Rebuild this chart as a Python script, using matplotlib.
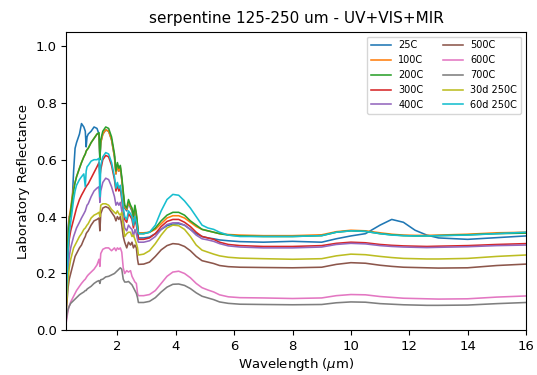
import numpy as np
import matplotlib
matplotlib.use("Agg")
import matplotlib.pyplot as plt

# wavelength grids (um): VNIR part and MIR part
wl_vnir = [0.25, 0.28, 0.31, 0.35, 0.40, 0.45, 0.50, 0.55, 0.60, 0.70, 0.77, 0.85, 0.90, 0.93,
           0.96, 1.0, 1.1, 1.2, 1.3, 1.37, 1.40, 1.43, 1.5, 1.6, 1.7, 1.8, 1.9, 1.95, 2.0, 2.05,
           2.1, 2.15, 2.2, 2.25, 2.32, 2.38, 2.45, 2.5, 2.55, 2.6, 2.65, 2.69]
wl_mir = [2.72, 2.9, 3.1, 3.3, 3.5, 3.7, 3.9, 4.1, 4.3, 4.5, 4.7, 4.9, 5.1, 5.3, 5.5, 5.8,
          6.2, 7.0, 8.0, 9.0, 9.5, 10.0, 10.5, 11.0, 11.4, 11.8, 12.2, 12.6, 13.0, 14.0, 15.0, 16.0]

labels = ["25C", "100C", "200C", "300C", "400C", "500C", "600C", "700C", "30d 250C", "60d 250C"]

# reflectance, VNIR part
r25_vnir = [0.10, 0.25, 0.36, 0.40, 0.40, 0.45, 0.56, 0.64, 0.66, 0.69, 0.727, 0.715, 0.70, 0.645,
            0.68, 0.69, 0.70, 0.715, 0.71, 0.69, 0.60, 0.66, 0.69, 0.705, 0.70, 0.67, 0.61, 0.55,
            0.58, 0.56, 0.57, 0.53, 0.48, 0.43, 0.42, 0.45, 0.43, 0.42, 0.39, 0.43, 0.40, 0.36]
r100_vnir = [0.12, 0.22, 0.33, 0.40, 0.43, 0.47, 0.50, 0.52, 0.54, 0.57, 0.59, 0.61, 0.62, 0.63,
             0.635, 0.64, 0.66, 0.675, 0.69, 0.69, 0.61, 0.66, 0.69, 0.705, 0.70, 0.67, 0.61, 0.55,
             0.58, 0.56, 0.575, 0.53, 0.48, 0.435, 0.425, 0.45, 0.435, 0.425, 0.395, 0.435, 0.405, 0.37]
r200_vnir = [0.14, 0.23, 0.32, 0.38, 0.42, 0.46, 0.49, 0.52, 0.54, 0.57, 0.59, 0.61, 0.62, 0.63,
             0.635, 0.64, 0.66, 0.675, 0.69, 0.695, 0.60, 0.67, 0.70, 0.715, 0.71, 0.68, 0.62, 0.56,
             0.59, 0.57, 0.58, 0.54, 0.49, 0.44, 0.43, 0.46, 0.44, 0.43, 0.40, 0.44, 0.41, 0.37]
r300_vnir = [0.10, 0.18, 0.26, 0.32, 0.35, 0.37, 0.39, 0.41, 0.43, 0.46, 0.475, 0.49, 0.50, 0.505,
             0.51, 0.515, 0.535, 0.555, 0.575, 0.59, 0.54, 0.565, 0.60, 0.615, 0.61, 0.58, 0.53, 0.49,
             0.51, 0.49, 0.50, 0.46, 0.42, 0.39, 0.38, 0.41, 0.40, 0.39, 0.36, 0.39, 0.37, 0.345]
r400_vnir = [0.09, 0.15, 0.21, 0.26, 0.29, 0.31, 0.33, 0.345, 0.36, 0.38, 0.395, 0.41, 0.42, 0.43,
             0.44, 0.445, 0.47, 0.49, 0.50, 0.505, 0.45, 0.49, 0.52, 0.535, 0.53, 0.505, 0.47, 0.44,
             0.45, 0.44, 0.45, 0.42, 0.39, 0.36, 0.35, 0.37, 0.36, 0.355, 0.33, 0.355, 0.34, 0.32]
r500_vnir = [0.07, 0.11, 0.15, 0.18, 0.20, 0.22, 0.24, 0.26, 0.27, 0.29, 0.30, 0.32, 0.33, 0.34,
             0.345, 0.35, 0.37, 0.385, 0.39, 0.395, 0.35, 0.41, 0.43, 0.435, 0.43, 0.415, 0.40, 0.385,
             0.40, 0.39, 0.40, 0.37, 0.33, 0.31, 0.29, 0.31, 0.30, 0.31, 0.29, 0.30, 0.29, 0.25]
r600_vnir = [0.03, 0.05, 0.07, 0.085, 0.10, 0.11, 0.12, 0.13, 0.14, 0.155, 0.165, 0.175, 0.18, 0.185,
             0.19, 0.195, 0.205, 0.215, 0.23, 0.25, 0.225, 0.27, 0.285, 0.29, 0.29, 0.28, 0.29, 0.28,
             0.29, 0.285, 0.29, 0.275, 0.22, 0.20, 0.21, 0.205, 0.21, 0.19, 0.18, 0.17, 0.165, 0.13]
r700_vnir = [0.04, 0.06, 0.075, 0.085, 0.095, 0.10, 0.105, 0.11, 0.115, 0.125, 0.13, 0.135, 0.14, 0.14,
             0.145, 0.148, 0.155, 0.165, 0.172, 0.175, 0.165, 0.178, 0.18, 0.188, 0.19, 0.195, 0.20, 0.205,
             0.21, 0.215, 0.22, 0.215, 0.18, 0.17, 0.17, 0.172, 0.165, 0.16, 0.15, 0.14, 0.13, 0.115]
r30d_vnir = [0.08, 0.13, 0.18, 0.22, 0.25, 0.27, 0.29, 0.30, 0.31, 0.33, 0.34, 0.355, 0.36, 0.365,
             0.37, 0.375, 0.395, 0.405, 0.41, 0.415, 0.40, 0.44, 0.445, 0.445, 0.44, 0.425, 0.415, 0.41,
             0.42, 0.41, 0.405, 0.415, 0.37, 0.33, 0.34, 0.345, 0.345, 0.33, 0.335, 0.32, 0.305, 0.29]
r60d_vnir = [0.12, 0.20, 0.28, 0.34, 0.38, 0.42, 0.46, 0.49, 0.51, 0.53, 0.54, 0.55, 0.505, 0.56,
             0.575, 0.58, 0.595, 0.60, 0.60, 0.605, 0.47, 0.58, 0.61, 0.625, 0.62, 0.59, 0.54, 0.50,
             0.52, 0.50, 0.51, 0.47, 0.43, 0.40, 0.39, 0.42, 0.41, 0.40, 0.37, 0.40, 0.38, 0.355]

# reflectance, MIR part
r25_mir = [0.325, 0.325, 0.328, 0.34, 0.355, 0.368, 0.373, 0.375, 0.37, 0.355, 0.34, 0.33, 0.325, 0.322,
           0.318, 0.315, 0.312, 0.31, 0.313, 0.31, 0.322, 0.332, 0.34, 0.37, 0.39, 0.38, 0.352, 0.335,
           0.325, 0.32, 0.326, 0.332]
r100_mir = [0.343, 0.343, 0.345, 0.355, 0.375, 0.395, 0.403, 0.403, 0.395, 0.38, 0.365, 0.355, 0.35, 0.345,
            0.34, 0.337, 0.335, 0.333, 0.333, 0.336, 0.347, 0.352, 0.35, 0.343, 0.338, 0.335, 0.334, 0.334,
            0.335, 0.338, 0.343, 0.345]
r200_mir = [0.34, 0.34, 0.345, 0.36, 0.385, 0.405, 0.415, 0.415, 0.405, 0.385, 0.37, 0.355, 0.35, 0.345,
            0.34, 0.335, 0.332, 0.33, 0.33, 0.333, 0.345, 0.35, 0.348, 0.34, 0.336, 0.333, 0.332, 0.332,
            0.333, 0.336, 0.34, 0.342]
r300_mir = [0.32, 0.32, 0.325, 0.34, 0.365, 0.383, 0.39, 0.39, 0.38, 0.365, 0.345, 0.33, 0.325, 0.32,
            0.31, 0.302, 0.298, 0.295, 0.295, 0.298, 0.306, 0.31, 0.308, 0.302, 0.299, 0.297, 0.296, 0.295,
            0.296, 0.298, 0.302, 0.305]
r400_mir = [0.31, 0.31, 0.315, 0.33, 0.355, 0.372, 0.378, 0.378, 0.37, 0.355, 0.335, 0.322, 0.318, 0.313,
            0.305, 0.297, 0.293, 0.29, 0.29, 0.293, 0.302, 0.306, 0.304, 0.298, 0.295, 0.293, 0.292, 0.291,
            0.292, 0.294, 0.298, 0.30]
r500_mir = [0.232, 0.233, 0.24, 0.26, 0.283, 0.298, 0.305, 0.303, 0.295, 0.28, 0.26, 0.245, 0.24, 0.235,
            0.228, 0.224, 0.222, 0.221, 0.22, 0.222, 0.232, 0.238, 0.236, 0.229, 0.225, 0.222, 0.221, 0.22,
            0.219, 0.22, 0.228, 0.233]
r600_mir = [0.122, 0.122, 0.126, 0.14, 0.165, 0.19, 0.205, 0.208, 0.20, 0.185, 0.165, 0.15, 0.142, 0.135,
            0.125, 0.118, 0.115, 0.114, 0.112, 0.114, 0.122, 0.126, 0.125, 0.119, 0.116, 0.113, 0.112, 0.111,
            0.11, 0.111, 0.117, 0.121]
r700_mir = [0.098, 0.098, 0.102, 0.115, 0.135, 0.152, 0.162, 0.163, 0.158, 0.147, 0.132, 0.12, 0.114, 0.108,
            0.10, 0.095, 0.092, 0.091, 0.09, 0.091, 0.097, 0.10, 0.099, 0.094, 0.092, 0.09, 0.089, 0.088,
            0.088, 0.089, 0.094, 0.098]
r30d_mir = [0.265, 0.268, 0.28, 0.305, 0.335, 0.36, 0.37, 0.368, 0.355, 0.33, 0.30, 0.282, 0.275, 0.268,
            0.262, 0.257, 0.254, 0.252, 0.25, 0.252, 0.262, 0.268, 0.266, 0.26, 0.256, 0.253, 0.252, 0.251,
            0.251, 0.253, 0.26, 0.265]
r60d_mir = [0.34, 0.34, 0.345, 0.37, 0.42, 0.46, 0.478, 0.475, 0.455, 0.43, 0.40, 0.37, 0.36, 0.355,
            0.345, 0.335, 0.33, 0.33, 0.33, 0.333, 0.345, 0.35, 0.348, 0.34, 0.335, 0.333, 0.332, 0.332,
            0.333, 0.335, 0.34, 0.345]

vnir = [r25_vnir, r100_vnir, r200_vnir, r300_vnir, r400_vnir,
        r500_vnir, r600_vnir, r700_vnir, r30d_vnir, r60d_vnir]
mir = [r25_mir, r100_mir, r200_mir, r300_mir, r400_mir,
       r500_mir, r600_mir, r700_mir, r30d_mir, r60d_mir]

wl = np.concatenate([wl_vnir, wl_mir])

fig = plt.figure(figsize=(5.37, 3.75), dpi=100)
ax = fig.add_axes([0.1235, 0.119, 0.856, 0.7965])

for lab, a, b in zip(labels, vnir, mir):
    ax.plot(wl, np.concatenate([a, b]), lw=1.15, label=lab)

ax.set_xlim(0.25, 16)
ax.set_ylim(0, 1.05)
ax.set_xticks([2, 4, 6, 8, 10, 12, 14, 16])
ax.tick_params(labelsize=9.5)
ax.set_xlabel(r"Wavelength ($\mu$m)", fontsize=9.5, labelpad=2)
ax.set_ylabel("Laboratory Reflectance", fontsize=9.5)
ax.set_title("serpentine 125-250 um - UV+VIS+MIR", fontsize=11)
ax.legend(ncol=2, fontsize=7, loc="upper right")

fig.savefig("out.png", dpi=100)
